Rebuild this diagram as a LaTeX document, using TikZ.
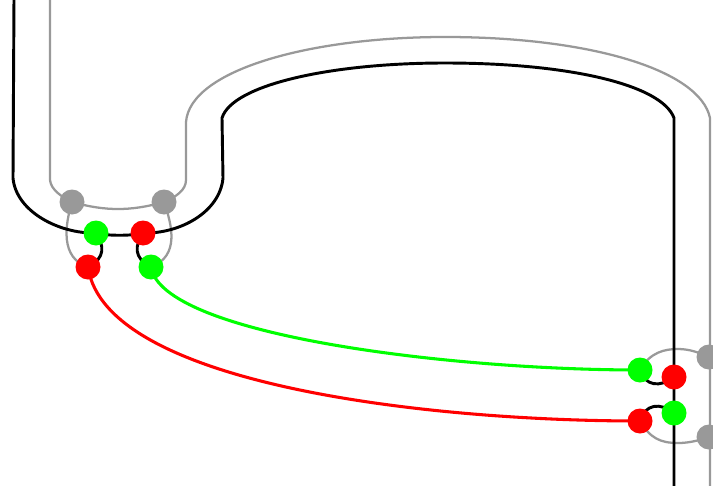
\documentclass[tikz,border=0pt]{standalone}
\usepackage{xcolor}
\usetikzlibrary{backgrounds}
\definecolor{wiregray}{RGB}{153,153,153}
\begin{document}
\begin{tikzpicture}[
  x=0.75pt, y=-0.75pt,
  port/.style={circle, fill=#1, inner sep=0pt, minimum size=18.75pt},
  blackwire/.style={draw=black, line width=2.2pt},
  graywire/.style={draw=wiregray, line width=1.7pt},
  greenwire/.style={draw=green, line width=2.3pt},
  redwire/.style={draw=red, line width=2.3pt},
]
\useasboundingbox (0,0) rectangle (713,485);

%% Left group
\node[port=wiregray] (G1) at (72,202)  {};
\node[port=wiregray] (G2) at (164,202) {};
\node[port=green]    (A1) at (96,233)  {};
\node[port=red]      (A2) at (143,233) {};
\node[port=red]      (B1) at (88,267)  {};
\node[port=green]    (B2) at (151,267) {};

%% Right group
\node[port=green]    (C1) at (640,370) {};
\node[port=red]      (C2) at (674,377) {};
\node[port=red]      (D1) at (640,421) {};
\node[port=green]    (D2) at (674,413) {};
\node[port=wiregray] (G3) at (709,357) {};
\node[port=wiregray] (G4) at (709,437) {};

%% Free ends
\coordinate (BL) at (14,-2);
\coordinate (BR) at (674,487);
\coordinate (WL) at (50,-2);
\coordinate (WR) at (710,487);

\begin{scope}[on background layer]
%% Gray outer line
\draw[graywire] (WL) -- (50,180) .. controls (51,190) and (62,197) .. (G1.center);
\draw[graywire] (G1.center) .. controls (90,207) and (104,209) .. (118,209)
                            .. controls (132,209) and (146,207) .. (G2.center);
\draw[graywire] (G2.center) .. controls (176,197) and (186,190) .. (186,180) -- (186,122)
                .. controls (190,70) and (310,37) .. (445,37)
                .. controls (590,37) and (700,70) .. (710,118) -- (WR);
\draw[graywire] (G1.center) .. controls (65,225) and (60,258) .. (B1.center);
\draw[graywire] (G2.center) .. controls (172,225) and (180,256) .. (B2.center);
\draw[graywire] (C1.center) .. controls (650,352) and (665,349) .. (678,349)
                            .. controls (690,349) and (700,353) .. (G3.center);
\draw[graywire] (D1.center) .. controls (650,438) and (660,443) .. (678,443)
                            .. controls (690,443) and (700,440) .. (G4.center);

%% Black inner line
\draw[blackwire] (BL) -- (13,178) .. controls (16,212) and (60,234) .. (A1.center)
                 .. controls (105,236) and (134,236) .. (A2.center)
                 .. controls (180,234) and (220,212) .. (223,178) -- (222,118)
                 .. controls (232,85) and (330,63) .. (445,63)
                 .. controls (570,63) and (662,85) .. (674,118) -- (BR);
\draw[blackwire] (A1.center) .. controls (104,245) and (106,258) .. (B1.center);
\draw[blackwire] (A2.center) .. controls (135,245) and (133,258) .. (B2.center);
\draw[blackwire] (C1.center) .. controls (645,386) and (660,388) .. (C2.center);
\draw[blackwire] (D1.center) .. controls (645,404) and (660,402) .. (D2.center);

%% Colored lines
\draw[greenwire] (B2.center) .. controls (162,335) and (450,370) .. (C1.center);
\draw[redwire]   (B1.center) .. controls (105,385) and (430,421) .. (D1.center);
\end{scope}
\end{tikzpicture}
\end{document}
